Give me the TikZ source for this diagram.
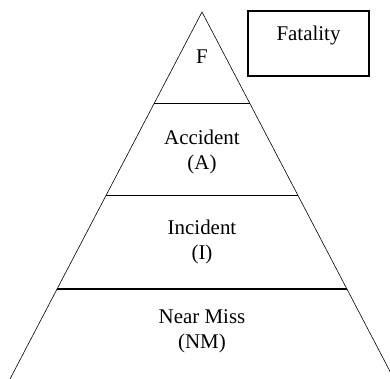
\documentclass[tikz,border=0pt]{standalone}
\usepackage{fontspec}
\setmainfont{Liberation Serif}
\usetikzlibrary{calc}
\begin{document}
\begin{tikzpicture}[x=1bp,y=-1bp,
  lbl/.style={font=\fontsize{21}{25}\selectfont, align=center, inner sep=0pt},
  side/.style={line width=0.6pt},
  band/.style={line width=1.3pt},
  boxstyle/.style={draw, line width=1.3pt, minimum width=121bp, minimum height=65bp, inner sep=0pt}]
\useasboundingbox (0,0) rectangle (390,379);
\clip (0,0) rectangle (390,379);
\coordinate (apex) at (202,12);
\coordinate (bl) at (10,379);
\coordinate (br) at (394,379);
\draw[side] (bl) -- (apex) -- (br);
\draw[band] ($(apex)!0.25!(bl)$) coordinate (l1) -- ($(apex)!0.25!(br)$) coordinate (r1);
\draw[band] ($(apex)!0.5!(bl)$) coordinate (l2) -- ($(apex)!0.5!(br)$) coordinate (r2);
\draw[band] ($(apex)!0.755!(bl)$) coordinate (l3) -- ($(apex)!0.755!(br)$) coordinate (r3);
\node[lbl] (f) at (202,57) {F};
\node[lbl] (a) at (202,152) {Accident\\(A)};
\node[lbl] (i) at (202,242) {Incident\\(I)};
\node[lbl] (nm) at (202,331) {Near Miss\\(NM)};
\node[boxstyle] (fat) at (308.5,43.5) {};
\node[lbl, anchor=base] (fatt) at (308.5,40) {Fatality};
\end{tikzpicture}
\end{document}
